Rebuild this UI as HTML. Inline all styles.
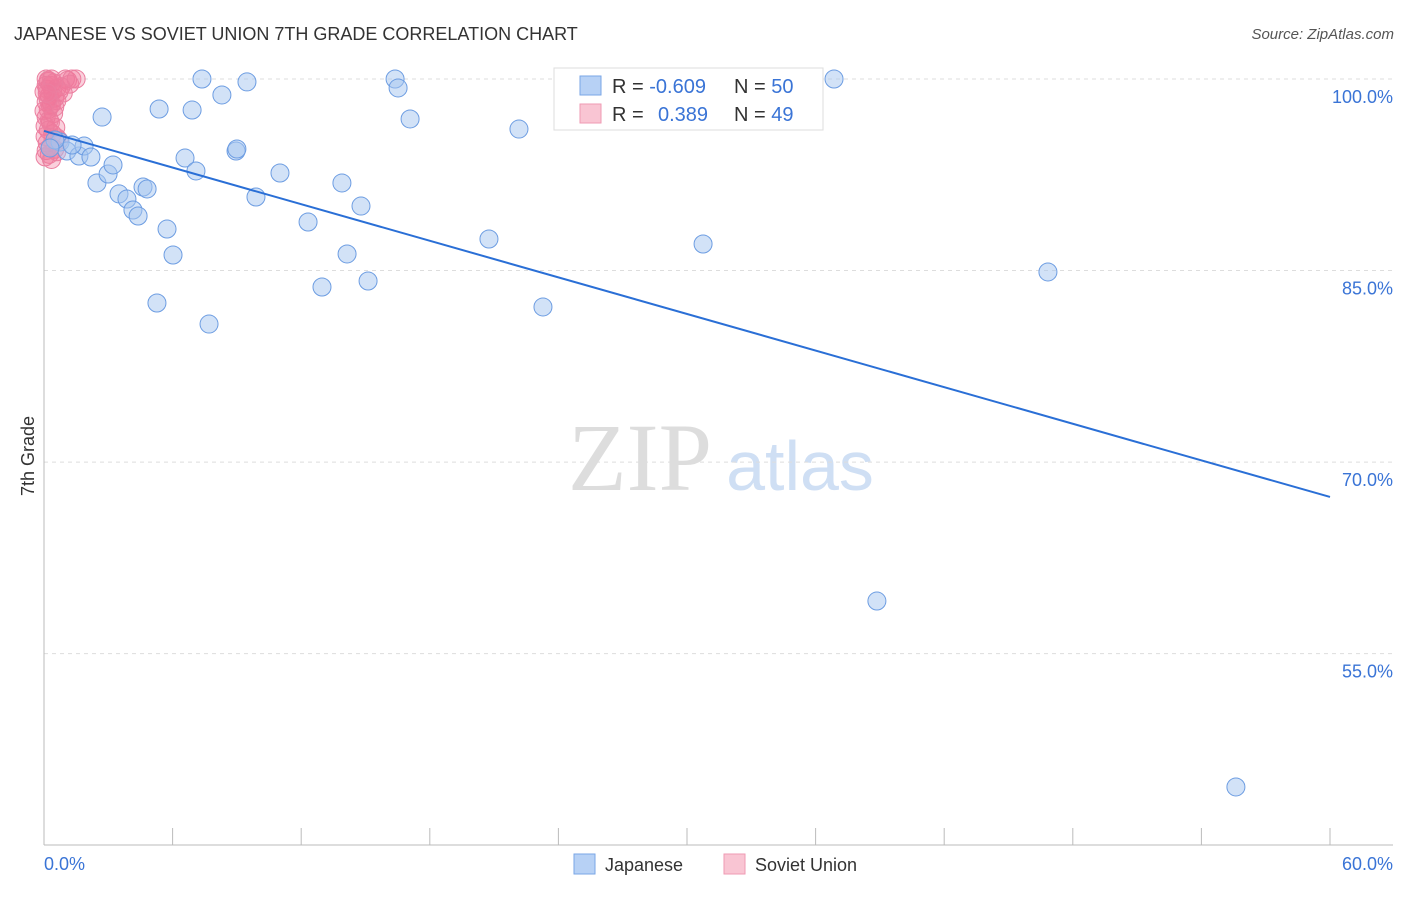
<!DOCTYPE html>
<html><head><meta charset="utf-8"><style>
body{margin:0;background:#fff;font-family:"Liberation Sans",sans-serif}
</style></head><body>
<svg id="c" width="1406" height="892" xmlns="http://www.w3.org/2000/svg">
<text x="14" y="40" font-size="18" fill="#333">JAPANESE VS SOVIET UNION 7TH GRADE CORRELATION CHART</text>
<text x="1394" y="39" font-size="15" fill="#555" font-style="italic" text-anchor="end">Source: ZipAtlas.com</text>
<text x="640" y="490" font-size="96" fill="#ddd" font-family="Liberation Serif,serif" text-anchor="middle">ZIP</text>
<text x="800" y="490" font-size="70" fill="#cfdff4" text-anchor="middle">atlas</text>
<text transform="translate(34,456) rotate(-90)" font-size="18" fill="#333" text-anchor="middle">7th Grade</text>
<g id="grid"></g><g id="pts"></g><g id="trend"></g>
<g>
<rect x="554" y="68" width="269" height="62" fill="#fff" stroke="#ddd"/>
<rect x="580" y="76" width="21" height="19" fill="#b7d1f5" stroke="#7aa6e6"/>
<rect x="580" y="104" width="21" height="19" fill="#f9c5d3" stroke="#ef9ab3"/>
<text x="612" y="93" font-size="20" fill="#333">R = <tspan fill="#3a74d6">-0.609</tspan><tspan x="734">N = </tspan><tspan fill="#3a74d6">50</tspan></text>
<text x="612" y="121" font-size="20" fill="#333">R = <tspan x="658" fill="#3a74d6">0.389</tspan><tspan x="734">N = </tspan><tspan fill="#3a74d6">49</tspan></text>
</g>
<g>
<rect x="574" y="854" width="21" height="20" fill="#b7d1f5" stroke="#7aa6e6"/>
<text x="605" y="871" font-size="18" fill="#333">Japanese</text>
<rect x="724" y="854" width="21" height="20" fill="#f9c5d3" stroke="#ef9ab3"/>
<text x="755" y="871" font-size="18" fill="#333">Soviet Union</text>
</g>
</svg>
<script>
const yTicks=[100,85,70,55];
const yTickLabels=["100.0%","85.0%","70.0%","55.0%"];
const xTickLabels=["0.0%","60.0%"];
const japX=[0.75,1.07,1.63,1.87,2.19,2.47,2.71,2.99,3.22,3.50,3.87,4.15,4.39,4.62,4.81,5.37,5.27,5.74,6.02,6.58,6.91,7.09,7.37,7.70,8.30,8.96,9.00,9.47,9.89,11.01,12.32,12.97,13.90,14.14,14.79,15.12,16.38,16.52,17.08,20.76,22.16,23.28,30.75,36.86,38.86,46.84,55.61,0.51,0.28,1.31];
const japY=[95.07,94.36,93.97,94.75,93.89,91.86,97.02,92.56,93.27,91.0,90.6,89.74,89.27,91.54,91.39,97.65,82.46,88.25,86.22,93.81,97.57,92.8,100,80.81,98.75,94.36,94.52,99.77,90.76,92.64,88.8,83.71,91.86,86.3,90.05,84.18,100,99.3,96.87,87.47,96.08,82.15,87.08,100,59.12,84.89,44.56,95.22,94.6,94.83];
const sovX=[0.1,0.2,0.3,0.15,0.4,0.25,0.5,0.1,0.35,0.6,0.2,0.45,0.1,0.3,0.05,0.2,0.4,0.6,0.15,0.3,0.1,0.25,0.5,0.05,0.35,1.0,1.1,1.3,1.5,1.2,0.8,0.7,0.9,0.6,0.5,0.3,0.2,0.1,0.0,0.0,0.05,0.7,0.55,0.2,0.35,0.45,0.15,0.25,0.6];
const sovY=[100,99.8,99.5,99.2,99,98.7,98.5,98.2,98,99.3,97.6,97.3,97,96.6,96.3,96,95.7,95.4,95,94.7,94.4,94.1,94.5,93.9,93.7,100,99.9,100,100,99.6,99.4,99,98.9,98.3,97.8,97.9,98.4,99.5,99,97.5,95.5,95.2,96.2,99.9,100,99.7,98.9,96.8,94.3];
const trendX=[0,60];
const trendY=[95.93,67.27];
const NS="http://www.w3.org/2000/svg";
const X=v=>44+v/60*1286;
const Y=v=>79+(100-v)*12.77;
function mk(p,t,a){const e=document.createElementNS(NS,t);for(const k in a)e.setAttribute(k,a[k]);p.appendChild(e);return e;}
const grid=document.getElementById('grid');
yTicks.forEach((t,i)=>{
 const l=mk(grid,'line',{x1:44,x2:1393,y1:Y(t),y2:Y(t),stroke:'#ddd','stroke-dasharray':'4 4'});
 
 
 const tx=mk(grid,'text',{x:1393,y:Y(t)+24,'text-anchor':'end','font-size':18,fill:'#3a74d6'});
 tx.textContent=yTickLabels[i];
 
 
});
const ax=mk(grid,'line',{x1:44,x2:44,y1:70,y2:845,stroke:'#bbb'});


const bx=mk(grid,'line',{x1:44,x2:1393,y1:845,y2:845,stroke:'#bbb'});


for(let i=1;i<=10;i++){const t=mk(grid,'line',{x1:X(i*6),x2:X(i*6),y1:828,y2:845,stroke:'#bbb'});
 
 }
[0,60].forEach((v,i)=>{const t=mk(grid,'text',{x:i?1393:44,y:870,'text-anchor':i?'end':'start','font-size':18,fill:'#3a74d6'});t.textContent=xTickLabels[i];
 
 });
const pts=document.getElementById('pts');
sovX.forEach((v,i)=>{const c=mk(pts,'circle',{cx:X(v),cy:Y(sovY[i]),r:9,fill:'rgba(240,120,155,0.35)',stroke:'#eb7fa0','stroke-width':1});
 
 });
japX.forEach((v,i)=>{const c=mk(pts,'circle',{cx:X(v),cy:Y(japY[i]),r:9,fill:'rgba(165,198,240,0.5)',stroke:'#6d9de2','stroke-width':1});
 
 });
const tl=mk(document.getElementById('trend'),'line',{x1:X(trendX[0]),y1:Y(trendY[0]),x2:X(trendX[1]),y2:Y(trendY[1]),stroke:'#2a6fd6','stroke-width':2});


</script>
</body></html>
